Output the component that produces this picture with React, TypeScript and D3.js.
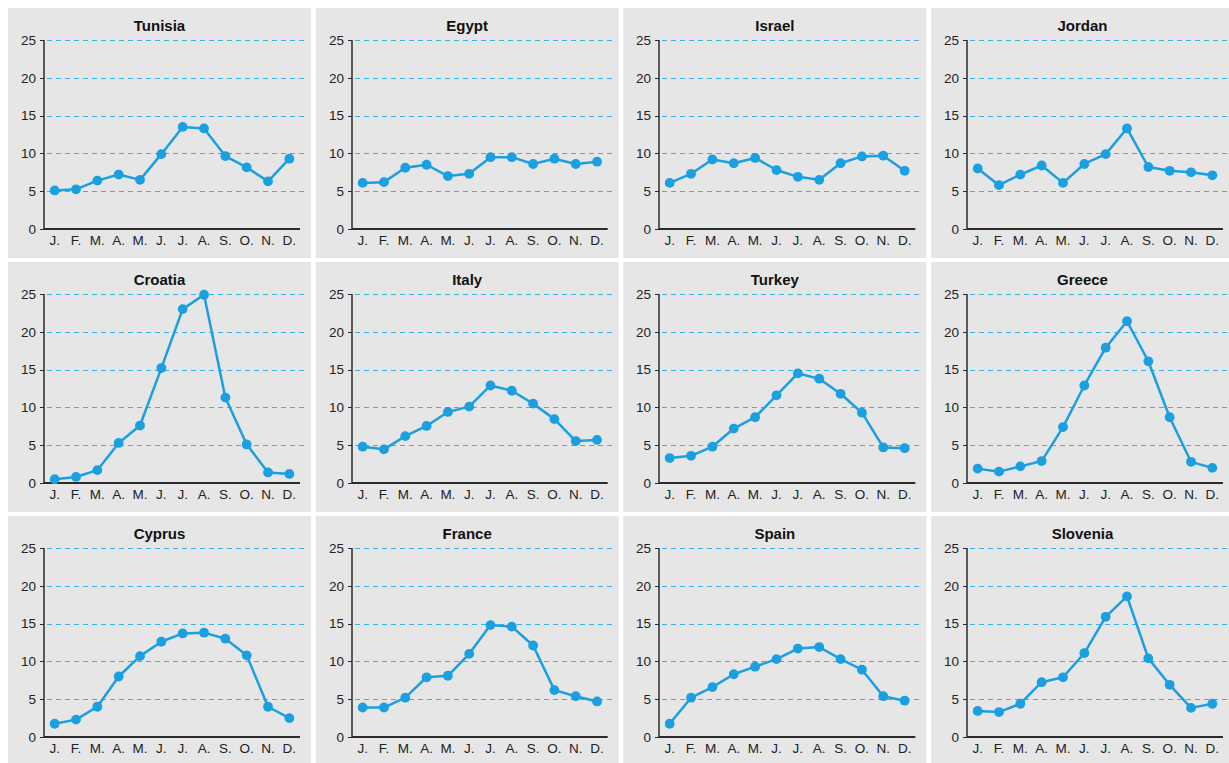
import React from "react";
import * as d3 from "d3";

const months = ["J.", "F.", "M.", "A.", "M.", "J.", "J.", "A.", "S.", "O.", "N.", "D."];
const yTicks = [0, 5, 10, 15, 20, 25];
const gridTicks = [5, 10, 15, 20, 25];

const countries = ["Tunisia", "Egypt", "Israel", "Jordan", "Croatia", "Italy", "Turkey", "Greece", "Cyprus", "France", "Spain", "Slovenia"];

const tunisia = [5.1, 5.25, 6.4, 7.2, 6.5, 9.9, 13.5, 13.3, 9.65, 8.15, 6.3, 9.3];
const egypt = [6.1, 6.2, 8.1, 8.5, 7.0, 7.3, 9.5, 9.5, 8.6, 9.3, 8.6, 8.9];
const israel = [6.1, 7.3, 9.2, 8.7, 9.4, 7.8, 6.9, 6.5, 8.7, 9.6, 9.7, 7.7];
const jordan = [8.0, 5.8, 7.2, 8.4, 6.1, 8.6, 9.9, 13.3, 8.2, 7.7, 7.5, 7.1];
const croatia = [0.5, 0.8, 1.7, 5.3, 7.6, 15.2, 23.0, 24.9, 11.3, 5.1, 1.4, 1.2];
const italy = [4.8, 4.45, 6.2, 7.55, 9.4, 10.1, 12.9, 12.2, 10.5, 8.45, 5.55, 5.7];
const turkey = [3.3, 3.6, 4.8, 7.2, 8.7, 11.6, 14.5, 13.8, 11.8, 9.3, 4.7, 4.6];
const greece = [1.9, 1.5, 2.2, 2.9, 7.4, 12.9, 17.9, 21.4, 16.1, 8.7, 2.8, 2.0];
const cyprus = [1.75, 2.3, 4.0, 8.0, 10.7, 12.6, 13.7, 13.8, 13.0, 10.8, 4.0, 2.5];
const france = [3.9, 3.9, 5.2, 7.9, 8.1, 11.0, 14.8, 14.6, 12.1, 6.2, 5.4, 4.7];
const spain = [1.75, 5.2, 6.6, 8.3, 9.3, 10.3, 11.7, 11.9, 10.3, 8.9, 5.4, 4.8];
const slovenia = [3.45, 3.3, 4.4, 7.25, 7.9, 11.1, 15.9, 18.6, 10.4, 6.9, 3.85, 4.4];

const seriesValues = [tunisia, egypt, israel, jordan, croatia, italy, turkey, greece, cyprus, france, spain, slovenia];

const W = 1229;
const H = 763;
const LINE = "#1a9fe0";
const GRID = "#35b2ea";
const AXIS = "#2b2b2b";
const BG = "#e6e6e6";
const FONT = "'Liberation Sans', Arial, Helvetica, sans-serif";

const colScale = d3.scaleBand<number>().domain([0, 1, 2, 3]).range([8, 1234]).paddingInner(0.015);
const rowScale = d3.scaleBand<number>().domain([0, 1, 2]).range([8, 766]).paddingInner(0.016);

function Panel({ idx }: { idx: number }) {
  const col = idx % 4;
  const row = Math.floor(idx / 4);
  const px = colScale(col)!;
  const py = rowScale(row)!;
  const pw = colScale.bandwidth();
  const ph = rowScale.bandwidth();
  const axisX = Math.round(px + 36);
  const plotRight = px + pw - 11;
  const plotTop = Math.round(py + 32);
  const plotBottom = Math.round(py + 221);
  const x = d3.scalePoint<number>().domain(d3.range(12)).range([axisX, plotRight]).padding(0.5);
  const y = d3.scaleLinear().domain([0, 25]).range([plotBottom, plotTop]);
  const vals = seriesValues[idx];
  const line = d3.line<number>().x((_, i) => x(i)!).y((v) => y(v));
  const crisp = (v: number) => Math.round(v) + 0.5;
  return (
    <g>
      <rect x={px} y={py} width={pw} height={ph} fill={BG} />
      <text x={px + pw / 2} y={py + 23} textAnchor="middle" fontFamily={FONT} fontWeight="bold" fontSize={15} fill="#111">
        {countries[idx]}
      </text>
      {gridTicks.map((t) => (
        <line key={t} x1={axisX + 3} x2={px + pw - 4} y1={crisp(y(t))} y2={crisp(y(t))} stroke={GRID} strokeWidth={1} strokeDasharray="5,4" />
      ))}
      {yTicks.map((t) => (
        <g key={t}>
          <line x1={axisX - 4} x2={axisX} y1={crisp(y(t))} y2={crisp(y(t))} stroke={AXIS} strokeWidth={1} />
          <text x={axisX - 8} y={y(t)} dy="0.36em" textAnchor="end" fontFamily={FONT} fontSize={13.5} fill="#222">
            {t}
          </text>
        </g>
      ))}
      <line x1={axisX} x2={axisX} y1={plotTop} y2={plotBottom} stroke={AXIS} strokeWidth={1.5} />
      <line x1={axisX} x2={plotRight} y1={plotBottom} y2={plotBottom} stroke={AXIS} strokeWidth={1.8} />
      {months.map((m, i) => (
        <text key={i} x={x(i)!} y={plotBottom + 16} textAnchor="middle" fontFamily={FONT} fontSize={13.5} fill="#222">
          {m}
        </text>
      ))}
      <path d={line(vals) || ""} fill="none" stroke={LINE} strokeWidth={2.5} strokeLinejoin="round" />
      {vals.map((v, i) => (
        <circle key={i} cx={x(i)!} cy={y(v)} r={4.9} fill={LINE} />
      ))}
    </g>
  );
}

export default function App() {
  return (
    <svg width={W} height={H} style={{ position: "absolute", left: 0, top: 0, background: "#fff" }}>
      {countries.map((_, i) => (
        <Panel key={i} idx={i} />
      ))}
    </svg>
  );
}
